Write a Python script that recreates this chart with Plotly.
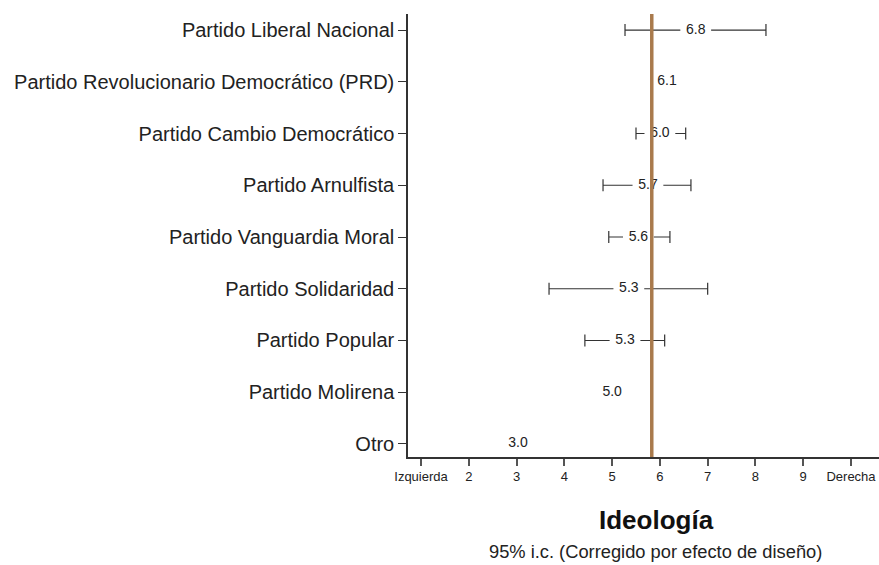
import plotly.graph_objects as go

partidos = [
    "Partido Liberal Nacional",
    "Partido Revolucionario Democrático (PRD)",
    "Partido Cambio Democrático",
    "Partido Arnulfista",
    "Partido Vanguardia Moral",
    "Partido Solidaridad",
    "Partido Popular",
    "Partido Molirena",
    "Otro",
]
media = [6.75, 6.15, 6.0, 5.75, 5.55, 5.35, 5.27, 5.0, 3.03]
etiquetas = ["6.8", "6.1", "6.0", "5.7", "5.6", "5.3", "5.3", "5.0", "3.0"]
ic_bajo = [5.27, None, 5.50, 4.81, 4.93, 3.68, 4.43, None, None]
ic_alto = [8.22, None, 6.54, 6.65, 6.21, 7.00, 6.10, None, None]
promedio = 5.83
tick_vals = [1, 2, 3, 4, 5, 6, 7, 8, 9, 10]
tick_text = ["Izquierda", "2", "3", "4", "5", "6", "7", "8", "9", "Derecha"]

FONT = "Liberation Sans, Arial, sans-serif"
n = len(partidos)
ypos = [n - 1 - i for i in range(n)]

ex, ey, ep, em = [], [], [], []
for i in range(n):
    if ic_bajo[i] is not None:
        ex.append(media[i]); ey.append(ypos[i])
        ep.append(ic_alto[i] - media[i]); em.append(media[i] - ic_bajo[i])

fig = go.Figure()
fig.add_trace(go.Scatter(
    x=ex, y=ey, mode="markers",
    marker=dict(size=1, color="rgba(0,0,0,0)"),
    error_x=dict(type="data", symmetric=False, array=ep, arrayminus=em,
                 color="#333333", thickness=1.2, width=6),
    hoverinfo="skip", showlegend=False,
))
# white mask behind the value labels
fig.add_trace(go.Scatter(
    x=media, y=ypos, mode="markers",
    marker=dict(symbol="line-ew", size=22, line=dict(width=12, color="white")),
    hoverinfo="skip", showlegend=False,
))
fig.add_trace(go.Scatter(
    x=media, y=ypos, mode="text", text=etiquetas,
    textposition="middle center",
    textfont=dict(family=FONT, size=14, color="#222222"),
    hoverinfo="skip", showlegend=False,
))

fig.add_shape(type="line", xref="x", yref="paper", x0=promedio, x1=promedio, y0=0, y1=1,
              line=dict(color="#A97A4C", width=3.5), layer="above")

fig.update_layout(
    width=879, height=565,
    margin=dict(l=408, r=0, t=14, b=108),
    paper_bgcolor="white", plot_bgcolor="white",
    font=dict(family=FONT, color="#222222"),
    xaxis=dict(range=[0.728, 10.586], tickvals=tick_vals, ticktext=tick_text,
               showgrid=False, zeroline=False, showline=True, linecolor="#333333", linewidth=1.5,
               ticks="outside", ticklen=7, tickcolor="#555555", tickwidth=1.5,
               tickfont=dict(size=13, color="#222222")),
    yaxis=dict(range=[-0.252, 8.31], tickvals=ypos, ticktext=partidos,
               showgrid=False, zeroline=False, showline=True, linecolor="#333333", linewidth=1.5,
               ticks="outside", ticklen=8, tickcolor="#333333", tickwidth=1.2,
               tickfont=dict(size=20, color="#222222")),
    annotations=[
        dict(text="<b>Ideología</b>", xref="paper", yref="paper", x=(656 - 408) / 471, y=-0.142,
             xanchor="center", yanchor="middle", showarrow=False,
             font=dict(size=26, color="#111111")),
        dict(text="95% i.c. (Corregido por efecto de diseño)", xref="paper", yref="paper",
             x=(655 - 408) / 471, y=-0.214, xanchor="center", yanchor="middle", showarrow=False,
             font=dict(size=18.3, color="#222222")),
    ],
)

fig.write_html("out.html", config={"displayModeBar": False},
               post_script="document.body.style.margin='0';document.body.style.overflow='hidden';")
